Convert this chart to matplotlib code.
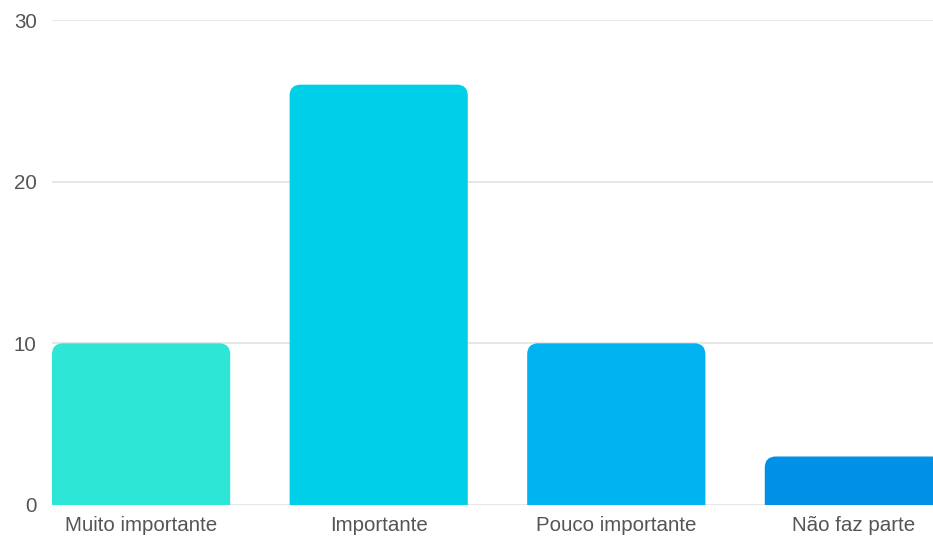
import matplotlib.pyplot as plt
from matplotlib.patches import PathPatch
from matplotlib.path import Path

categories = ['Muito importante', 'Importante', 'Pouco importante', 'Não faz parte']
values = [10, 26, 10, 3]
colors = ['#2ee6d6', '#00cfe8', '#00b3f0', '#0091e6']
yticks = [0, 10, 20, 30]

plt.rcParams['font.family'] = ['Liberation Sans', 'DejaVu Sans']

fig = plt.figure(figsize=(9.33, 5.37), dpi=100)
ax = fig.add_axes([52 / 933, 32 / 537, 1 - 52 / 933, 485 / 537])

x = list(range(len(categories)))
bars = ax.bar(x, values, width=0.75, color=colors, zorder=2)

# swap each bar for one with rounded top corners (about 11 px)
rx = 11 / 237.5
ry = 11 / 16.17
for b, c in zip(bars, colors):
    b.set_visible(False)
    x0, w, h = b.get_x(), b.get_width(), b.get_height()
    x1 = x0 + w
    verts = [(x0, 0), (x0, h - ry), (x0, h), (x0 + rx, h),
             (x1 - rx, h), (x1, h), (x1, h - ry), (x1, 0), (x0, 0)]
    codes = [Path.MOVETO, Path.LINETO, Path.CURVE3, Path.CURVE3,
             Path.LINETO, Path.CURVE3, Path.CURVE3, Path.LINETO, Path.CLOSEPOLY]
    ax.add_patch(PathPatch(Path(verts, codes), fc=c, ec='none', zorder=2))

ax.set_xlim(-0.375, 3.333)
ax.set_ylim(0, 30)
ax.set_yticks(yticks)
ax.set_xticks(x)
ax.set_xticklabels(categories)
ax.yaxis.grid(True, color='#e3e3e3', linewidth=1.2, zorder=0)
ax.set_axisbelow(True)
for s in ax.spines.values():
    s.set_visible(False)
ax.tick_params(axis='both', length=0, labelsize=14.8, labelcolor='#555555')
ax.tick_params(axis='y', pad=11)
ax.tick_params(axis='x', pad=8)

fig.savefig('out.png', dpi=100)
